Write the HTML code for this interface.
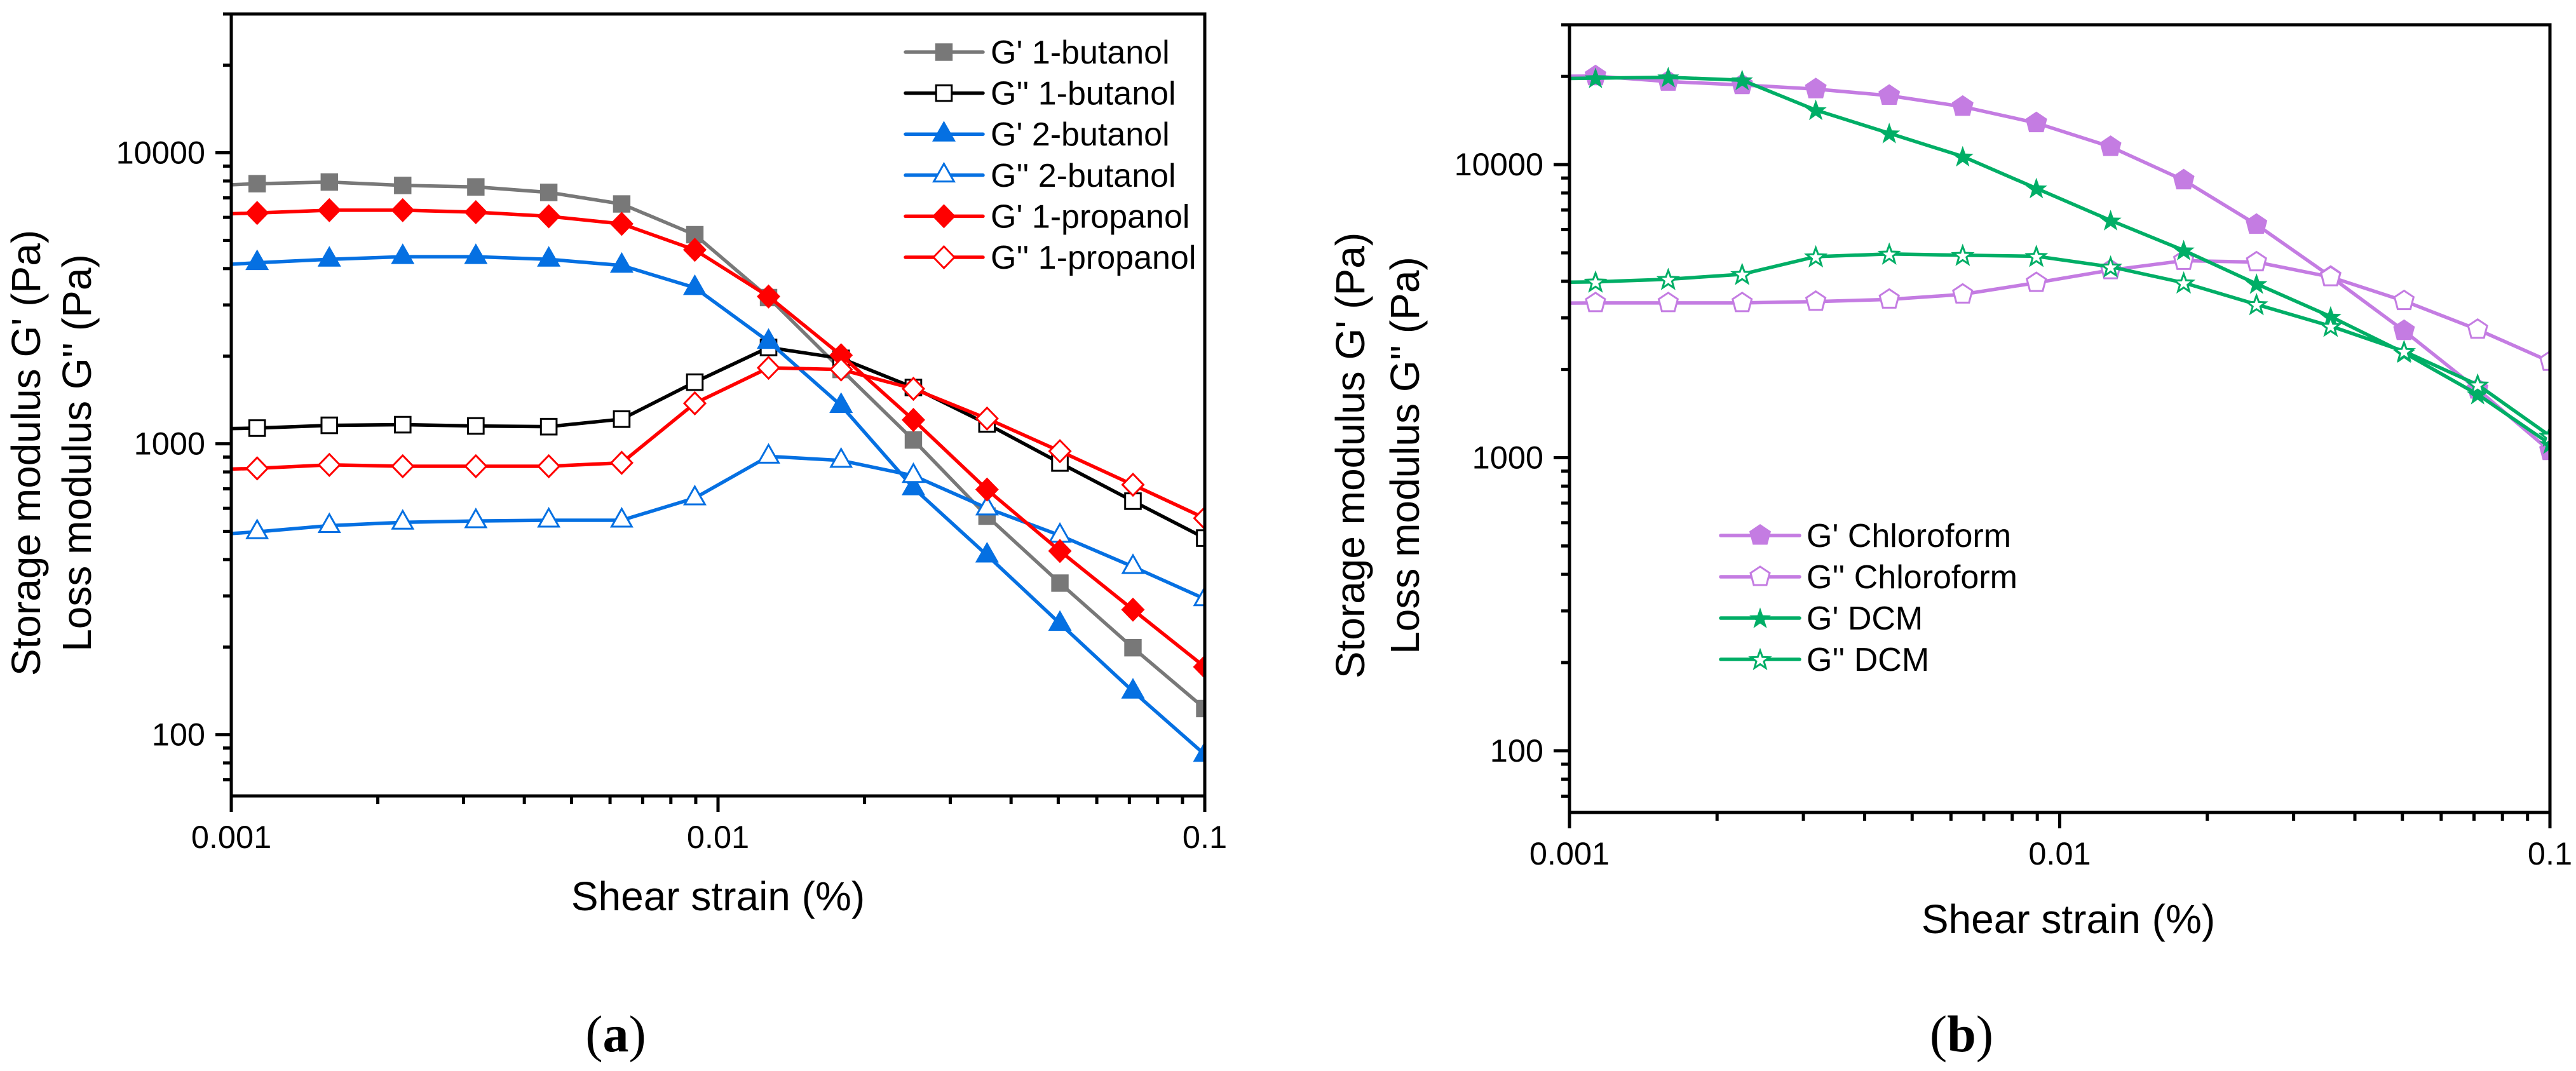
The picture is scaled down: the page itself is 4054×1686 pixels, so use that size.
<!DOCTYPE html>
<html lang="en">
<head>
<meta charset="utf-8">
<title>Storage and loss modulus versus shear strain</title>
<style>
html,body{margin:0;padding:0;background:#fff;}
svg{display:block;}
text{font-family:"Liberation Sans",Arial,sans-serif;fill:#000;}
.tick{font-size:50.5px;}
.legend{font-size:52px;}
.title{font-size:64px;}
.cap{font-family:"Liberation Serif",serif;font-size:82px;}
</style>
</head>
<body>
<svg id="figure" xmlns="http://www.w3.org/2000/svg" width="4054" height="1686" viewBox="0 0 4054 1686">
  <rect x="0" y="0" width="4054" height="1686" fill="#fff"/>
  <defs>
    <clipPath id="clip-a"><rect x="364" y="22" width="1532" height="1231"/></clipPath>
    <clipPath id="clip-b"><rect x="2470" y="39" width="1543" height="1240"/></clipPath>
  </defs>
  <g id="panel-a"></g>
  <g id="panel-b"></g>

  <text class="title" transform="translate(63,713) rotate(-90)" text-anchor="middle">Storage modulus G' (Pa)</text>
  <text class="title" transform="translate(143,713) rotate(-90)" text-anchor="middle">Loss modulus G'' (Pa)</text>
  <text class="title" x="1130" y="1433" text-anchor="middle">Shear strain (%)</text>
  <text class="cap" x="969" y="1655" text-anchor="middle">(<tspan font-weight="bold">a</tspan>)</text>

  <text class="title" transform="translate(2147,717) rotate(-90)" text-anchor="middle">Storage modulus G' (Pa)</text>
  <text class="title" transform="translate(2233,717) rotate(-90)" text-anchor="middle">Loss modulus G'' (Pa)</text>
  <text class="title" x="3255" y="1469" text-anchor="middle">Shear strain (%)</text>
  <text class="cap" x="3087" y="1655" text-anchor="middle">(<tspan font-weight="bold">b</tspan>)</text>
</svg>

<script>
// Shared strain values (first point lies left of the axis and is clipped)
const strain = [0.0008, 0.00113, 0.00159, 0.00225, 0.00318, 0.00449, 0.00634, 0.00896, 0.0127, 0.0179, 0.0252, 0.0357, 0.0504, 0.0712, 0.1];

// Panel (a) series
const gp1Butanol  = [7650, 7829, 7933, 7723, 7634, 7310, 6670, 5230, 3180, 1800, 1030, 564, 332, 199, 123];
const gpp1Butanol = [1120, 1132, 1157, 1163, 1151, 1145, 1215, 1628, 2143, 1965, 1561, 1170, 859, 635, 474];
const gp2Butanol  = [4050, 4190, 4305, 4395, 4395, 4305, 4100, 3439, 2246, 1353, 705, 414, 241, 141, 85.5];
const gpp2Butanol = [480, 498, 523, 537, 543, 546, 546, 651, 905, 876, 777, 601, 484, 378, 293];
const gp1Propanol = [6100, 6213, 6350, 6350, 6250, 6050, 5700, 4640, 3208, 2014, 1208, 696, 428, 269, 171];
const gpp1Propanol = [810, 823, 846, 837, 837, 837, 860, 1377, 1824, 1800, 1545, 1221, 943, 723, 555];

// Panel (b) series
const gpChloroform  = [20000, 20045, 19200, 18700, 18100, 17200, 15770, 13870, 11500, 8850, 6240, 4150, 2710, 1710, 1055];
const gppChloroform = [3360, 3373, 3373, 3373, 3410, 3467, 3609, 3953, 4367, 4700, 4650, 4134, 3428, 2737, 2128];
const gpDcm  = [19600, 19730, 19860, 19410, 15350, 12790, 10660, 8300, 6450, 5100, 3917, 3030, 2280, 1645, 1114];
const gppDcm = [3950, 3981, 4064, 4227, 4853, 4955, 4908, 4868, 4480, 3953, 3334, 2812, 2307, 1774, 1186];

// Tick labels
const xTickValues = [0.001, 0.01, 0.1];
const xTickLabels = ["0.001", "0.01", "0.1"];
const yTickValues = [100, 1000, 10000];
const yTickLabels = ["100", "1000", "10000"];
const xMinorValues = [0.002, 0.003, 0.004, 0.005, 0.006, 0.007, 0.008, 0.009, 0.02, 0.03, 0.04, 0.05, 0.06, 0.07, 0.08, 0.09];
const yMinorValues = [70, 80, 90, 200, 300, 400, 500, 600, 700, 800, 900, 2000, 3000, 4000, 5000, 6000, 7000, 8000, 9000, 20000, 30000];

// Legend labels
const legendLabelsA = ["G' 1-butanol", "G'' 1-butanol", "G' 2-butanol", "G'' 2-butanol", "G' 1-propanol", "G'' 1-propanol"];
const legendLabelsB = ["G' Chloroform", "G'' Chloroform", "G' DCM", "G'' DCM"];

const xDomain = [0.001, 0.1];
const yDomain = [61.6, 30000];

const NS = "http://www.w3.org/2000/svg";

function mk(tag, attrs, parent) {
  const el = document.createElementNS(NS, tag);
  for (const k in attrs) el.setAttribute(k, attrs[k]);
  parent.appendChild(el);
  return el;
}

function xScale(box, v) {
  return box.left + (Math.log10(v) - Math.log10(xDomain[0])) / (Math.log10(xDomain[1]) - Math.log10(xDomain[0])) * (box.right - box.left);
}
function yScale(box, v) {
  return box.bottom - (Math.log10(v) - Math.log10(yDomain[0])) / (Math.log10(yDomain[1]) - Math.log10(yDomain[0])) * (box.bottom - box.top);
}

function starPoints(cx, cy, R, r) {
  const pts = [];
  const oy = 1.3;
  for (let i = 0; i < 10; i++) {
    const a = -Math.PI / 2 + i * Math.PI / 5;
    const d = i % 2 ? r : R;
    pts.push((cx + d * Math.cos(a)).toFixed(1) + "," + (cy + oy + d * Math.sin(a)).toFixed(1));
  }
  return pts.join(" ");
}

function drawMarker(parent, shape, cx, cy, color, hollow) {
  const fill = hollow ? "#fff" : color;
  const stroke = hollow ? color : "none";
  const sw = hollow ? 3 : 0;
  let pts;
  if (shape === "square") {
    pts = hollow ? [[-12.3, -12.3], [12.3, -12.3], [12.3, 12.3], [-12.3, 12.3]]
                 : [[-13.7, -13.7], [13.7, -13.7], [13.7, 13.7], [-13.7, 13.7]];
  } else if (shape === "triangle") {
    pts = hollow ? [[0, -18], [15.9, 10], [-15.9, 10]]
                 : [[0, -21], [18.5, 11.5], [-18.5, 11.5]];
  } else if (shape === "diamond") {
    pts = hollow ? [[0, -17], [16.5, 0], [0, 17], [-16.5, 0]]
                 : [[0, -19], [18.5, 0], [0, 19], [-18.5, 0]];
  } else if (shape === "pentagon") {
    pts = hollow ? [[0, -16], [15, -6], [10, 13], [-10, 13], [-15, -6]]
                 : [[0, -18], [17, -6.5], [11.5, 14.5], [-11.5, 14.5], [-17, -6.5]];
  }
  const s = shape === "star"
    ? (hollow ? starPoints(cx, cy, 15.2, 6.3) : starPoints(cx, cy, 18, 7.2))
    : pts.map(p => (cx + p[0]) + "," + (cy + p[1])).join(" ");
  return mk("polygon", { points: s, fill: fill, stroke: stroke, "stroke-width": sw, "stroke-linejoin": "miter" }, parent);
}

function drawPanel(cfg) {
  const root = document.getElementById(cfg.id);
  const box = cfg.box;

  // Series, clipped to the plot area
  const plot = mk("g", { "clip-path": "url(#" + cfg.clip + ")" }, root);
  
  
  cfg.series.forEach(function (s) {
    const g = mk("g", {}, plot);
    
    
    const d = s.values.map((v, i) => xScale(box, strain[i]).toFixed(1) + "," + yScale(box, v).toFixed(1)).join(" ");
    const line = mk("polyline", { points: d, fill: "none", stroke: s.color, "stroke-width": 5.5, "stroke-linejoin": "round", "stroke-linecap": "round" }, g);
    
    
    s.values.forEach(function (v, i) {
      const m = drawMarker(g, s.shape, xScale(box, strain[i]), yScale(box, v), s.color, s.hollow);
      
      
    });
  });

  // Frame
  const frame = mk("rect", { x: box.left, y: box.top, width: box.right - box.left, height: box.bottom - box.top, fill: "none", stroke: "#000", "stroke-width": 5 }, root);
  
  

  // X ticks
  xMinorValues.forEach(function (v) {
    const x = xScale(box, v);
    const t = mk("line", { x1: x, x2: x, y1: box.bottom, y2: box.bottom + 13, stroke: "#000", "stroke-width": 5 }, root);
    
    
  });
  xTickValues.forEach(function (v, i) {
    const x = xScale(box, v);
    const t = mk("line", { x1: x, x2: x, y1: box.bottom, y2: box.bottom + 25, stroke: "#000", "stroke-width": 5 }, root);
    
    
    const l = mk("text", { x: x, y: box.bottom + 82, "text-anchor": "middle", class: "tick" }, root);
    l.textContent = xTickLabels[i];
    
    
  });

  // Y ticks
  yMinorValues.forEach(function (v) {
    const y = yScale(box, v);
    const t = mk("line", { x1: box.left - 13, x2: box.left, y1: y, y2: y, stroke: "#000", "stroke-width": 5 }, root);
    
    
  });
  yTickValues.forEach(function (v, i) {
    const y = yScale(box, v);
    const t = mk("line", { x1: box.left - 25, x2: box.left, y1: y, y2: y, stroke: "#000", "stroke-width": 5 }, root);
    
    
    const l = mk("text", { x: box.left - 41, y: y + 17, "text-anchor": "end", class: "tick" }, root);
    l.textContent = yTickLabels[i];
    
    
  });

  // Legend
  const leg = mk("g", {}, root);
  
  
  cfg.series.forEach(function (s, i) {
    const y = cfg.legend.y0 + i * cfg.legend.dy;
    const row = mk("g", {}, leg);
    
    
    mk("line", { x1: cfg.legend.x1, x2: cfg.legend.x2, y1: y, y2: y, stroke: s.color, "stroke-width": 5.5, "stroke-linecap": "round" }, row);
    drawMarker(row, s.shape, (cfg.legend.mx), y, s.color, s.hollow);
    const tx = mk("text", { x: cfg.legend.tx, y: y + 18, class: "legend" }, row);
    tx.textContent = cfg.labels[i];
  });
}

drawPanel({
  id: "panel-a",
  clip: "clip-a",
  box: { left: 364, right: 1896, top: 22, bottom: 1253 },
  labels: legendLabelsA,
  legend: { x1: 1425, x2: 1547, mx: 1485.5, tx: 1559, y0: 82, dy: 64.6 },
  series: [
    { key: "g-prime-1-butanol", values: gp1Butanol, color: "#787878", shape: "square", hollow: false },
    { key: "g-double-prime-1-butanol", values: gpp1Butanol, color: "#000000", shape: "square", hollow: true },
    { key: "g-prime-2-butanol", values: gp2Butanol, color: "#0570e2", shape: "triangle", hollow: false },
    { key: "g-double-prime-2-butanol", values: gpp2Butanol, color: "#0570e2", shape: "triangle", hollow: true },
    { key: "g-prime-1-propanol", values: gp1Propanol, color: "#ff0000", shape: "diamond", hollow: false },
    { key: "g-double-prime-1-propanol", values: gpp1Propanol, color: "#ff0000", shape: "diamond", hollow: true }
  ]
});

drawPanel({
  id: "panel-b",
  clip: "clip-b",
  box: { left: 2470, right: 4013, top: 39, bottom: 1279 },
  labels: legendLabelsB,
  legend: { x1: 2708, x2: 2832, mx: 2770, tx: 2843, y0: 843, dy: 65 },
  series: [
    { key: "g-prime-chloroform", values: gpChloroform, color: "#c47ce2", shape: "pentagon", hollow: false },
    { key: "g-double-prime-chloroform", values: gppChloroform, color: "#c47ce2", shape: "pentagon", hollow: true },
    { key: "g-prime-dcm", values: gpDcm, color: "#00ae66", shape: "star", hollow: false },
    { key: "g-double-prime-dcm", values: gppDcm, color: "#00ae66", shape: "star", hollow: true }
  ]
});
</script>
</body>
</html>
